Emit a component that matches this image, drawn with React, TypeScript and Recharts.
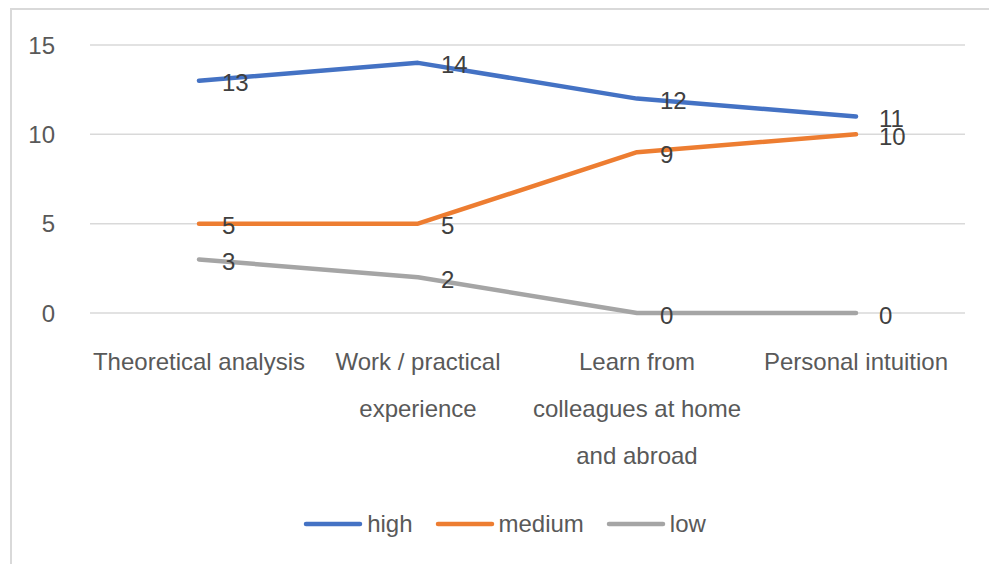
import React from 'react';
import { LineChart, Line, XAxis, YAxis, CartesianGrid, Legend, LabelList } from 'recharts';

const categories = [
  'Theoretical analysis',
  'Work / practical experience',
  'Learn from colleagues at home and abroad',
  'Personal intuition',
];
const tickLines = [
  ['Theoretical analysis'],
  ['Work / practical', 'experience'],
  ['Learn from', 'colleagues at home', 'and abroad'],
  ['Personal intuition'],
];
const high = [13, 14, 12, 11];
const medium = [5, 5, 9, 10];
const low = [3, 2, 0, 0];
const yTicks = [0, 5, 10, 15];

const series = [
  { key: 'high', color: '#4472C4' },
  { key: 'medium', color: '#ED7D31' },
  { key: 'low', color: '#A5A5A5' },
];

const data = categories.map((name, i) => ({
  name,
  high: high[i],
  medium: medium[i],
  low: low[i],
}));

const FONT = '"Liberation Sans", Arial, sans-serif';

const YTick = (props: any) => {
  const { x, y, payload } = props;
  return (
    <text x={x} y={y} textAnchor="end" dominantBaseline="central" fontSize={24} fill="#595959" fontFamily={FONT}>
      {payload.value}
    </text>
  );
};

const XTick = (props: any) => {
  const { x, y, index } = props;
  const lines = tickLines[index] || [];
  return (
    <g>
      {lines.map((ln, i) => (
        <text key={i} x={x} y={y + 48 + i * 47} textAnchor="middle" dominantBaseline="central" fontSize={24} fill="#595959" fontFamily={FONT}>
          {ln}
        </text>
      ))}
    </g>
  );
};

const ValueLabel = (props: any) => {
  const { x, y, value } = props;
  return (
    <text x={x + 23} y={y + 2} dominantBaseline="central" fontSize={24} fill="#404040" fontFamily={FONT}>
      {value}
    </text>
  );
};

// legend row: long rounded swatch, then the series name
const LegendContent = () => (
  <div style={{ display: 'flex', justifyContent: 'center', height: 50, fontFamily: FONT, fontSize: 24, color: '#595959', paddingLeft: 66 }}>
    {series.map((s) => (
      <div key={s.key} style={{ display: 'flex', alignItems: 'center', height: 20, marginRight: 22 }}>
        <svg width={60} height={8} style={{ marginRight: 4 }}>
          <line x1={3} y1={4} x2={57} y2={4} stroke={s.color} strokeWidth={4.5} strokeLinecap="round" />
        </svg>
        <span>{s.key}</span>
      </div>
    ))}
  </div>
);

export default function App() {
  return (
    <div style={{ position: 'absolute', left: 0, top: 0, width: 989, height: 564, background: '#fff', overflow: 'hidden' }}>
      <div style={{ position: 'absolute', left: 10, top: 8, width: 1000, height: 600, border: '2px solid #d9d9d9' }} />
      <LineChart
        width={989}
        height={564}
        data={data}
        margin={{ top: 45, right: 24, bottom: 0, left: 0 }}
        style={{ position: 'absolute', left: 0, top: 0 }}
      >
        <CartesianGrid vertical={false} stroke="#d9d9d9" strokeWidth={1.5} />
        <XAxis
          dataKey="name"
          axisLine={false}
          tickLine={false}
          tickSize={0}
          tickMargin={0}
          height={201}
          interval={0}
          padding={{ left: 109, right: 109 }}
          tick={<XTick />}
        />
        <YAxis
          domain={[0, 15]}
          ticks={yTicks}
          width={90}
          axisLine={false}
          tickLine={false}
          tickSize={0}
          tickMargin={35}
          tick={<YTick />}
        />
        <Legend verticalAlign="bottom" height={50} content={<LegendContent />} />
        {series.map((s) => (
          <Line
            key={s.key}
            dataKey={s.key}
            stroke={s.color}
            strokeWidth={4.5}
            strokeLinecap="round"
            strokeLinejoin="round"
            dot={false}
            isAnimationActive={false}
          >
            <LabelList dataKey={s.key} content={<ValueLabel />} />
          </Line>
        ))}
      </LineChart>
    </div>
  );
}
